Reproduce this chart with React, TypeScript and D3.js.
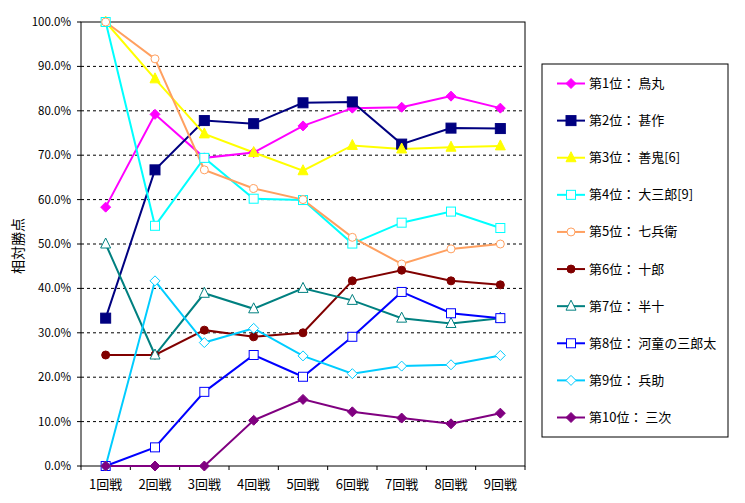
import * as d3 from "d3";

const rounds = ["1回戦", "2回戦", "3回戦", "4回戦", "5回戦", "6回戦", "7回戦", "8回戦", "9回戦"];
const yTicks = [0, 0.1, 0.2, 0.3, 0.4, 0.5, 0.6, 0.7, 0.8, 0.9, 1.0];

const names = [
  "第1位： 鳥丸",
  "第2位： 甚作",
  "第3位： 善鬼[6]",
  "第4位： 大三郎[9]",
  "第5位： 七兵衛",
  "第6位： 十郎",
  "第7位： 半十",
  "第8位： 河童の三郎太",
  "第9位： 兵助",
  "第10位： 三次",
];

const colors = ["#ff00ff", "#000080", "#ffff00", "#00ffff", "#ffa060", "#800000", "#008080", "#0000ff", "#00ccff", "#800080"];
const markers = ["diamond", "square", "triangle", "squareOpen", "circleOpen", "circle", "triangleOpen", "squareOpen", "diamondOpen", "diamond"];

const s1 = [58.3, 79.2, 69.4, 70.6, 76.6, 80.6, 80.8, 83.3, 80.6];
const s2 = [33.3, 66.7, 77.8, 77.1, 81.8, 82.0, 72.5, 76.1, 76.0];
const s3 = [100, 87.2, 74.8, 70.6, 66.5, 72.2, 71.4, 71.8, 72.1];
const s4 = [100, 54.1, 69.4, 60.2, 59.9, 50.1, 54.8, 57.3, 53.6];
const s5 = [100, 91.7, 66.7, 62.5, 60.0, 51.5, 45.5, 48.9, 50.0];
const s6 = [25.0, 25.0, 30.6, 29.1, 30.0, 41.7, 44.1, 41.7, 40.8];
const s7 = [50.0, 25.0, 38.9, 35.4, 40.0, 37.3, 33.3, 32.1, 33.3];
const s8 = [0, 4.2, 16.7, 25.0, 20.1, 29.1, 39.2, 34.4, 33.3];
const s9 = [0, 41.7, 27.8, 31.0, 24.8, 20.8, 22.5, 22.8, 24.9];
const s10 = [0, 0, 0, 10.3, 15.0, 12.2, 10.8, 9.5, 11.9];

const series = [s1, s2, s3, s4, s5, s6, s7, s8, s9, s10];

const W = 745;
const H = 503;
const left = 81;
const right = 525;
const top = 22;
const bottom = 466;
const font = "'Noto Sans CJK JP', 'Noto Sans', sans-serif";

function Marker({ type, color, x, y }: { type: string; color: string; x: number; y: number }) {
  const open = type.endsWith("Open");
  const fill = open ? "#fff" : color;
  const stroke = color;
  if (type.startsWith("diamond")) {
    const r = 5;
    return <path d={`M${x},${y - r}L${x + r},${y}L${x},${y + r}L${x - r},${y}Z`} fill={fill} stroke={stroke} strokeWidth={1} />;
  }
  if (type.startsWith("square")) {
    const r = open ? 4.5 : 5;
    return <rect x={x - r} y={y - r} width={r * 2} height={r * 2} fill={fill} stroke={stroke} strokeWidth={1} />;
  }
  if (type.startsWith("triangle")) {
    const r = 5;
    return <path d={`M${x},${y - r - 1}L${x + r},${y + r - 1}L${x - r},${y + r - 1}Z`} fill={fill} stroke={stroke} strokeWidth={1} />;
  }
  return <circle cx={x} cy={y} r={4} fill={fill} stroke={stroke} strokeWidth={1} />;
}

export default function App() {
  const x = d3.scaleBand<string>().domain(rounds).range([left, right]).padding(0);
  const cx = (c: string) => (x(c) ?? 0) + x.bandwidth() / 2;
  const y = d3.scaleLinear().domain([0, 1]).range([bottom, top]);
  const line = d3
    .line<number>()
    .x((_, i) => cx(rounds[i]))
    .y((v) => y(v / 100));

  const legendX = 542;
  const legendY = 64;
  const rowY = d3.scaleLinear().domain([0, 9]).range([83.5, 417.5]);

  return (
    <svg width={W} height={H} style={{ position: "absolute", left: 0, top: 0, background: "#fff" }} fontFamily={font}>
      <rect x={0} y={0} width={W} height={H} fill="#fff" />
      {/* grid */}
      {yTicks.slice(1, -1).map((t) => (
        <line key={t} x1={left} x2={right} y1={y(t)} y2={y(t)} stroke="#000" strokeDasharray="3,3" strokeWidth={1} />
      ))}
      <rect x={left} y={top} width={right - left} height={bottom - top} fill="none" stroke="#000" strokeWidth={1} />
      {/* y ticks */}
      {yTicks.map((t) => (
        <g key={t}>
          <line x1={left - 4} x2={left} y1={y(t)} y2={y(t)} stroke="#000" />
          <text x={71} y={y(t)} dy="0.35em" textAnchor="end" fontSize={11.5}>
            {(t * 100).toFixed(1)}%
          </text>
        </g>
      ))}
      {/* x ticks */}
      {rounds.map((r) => (
        <g key={r}>
          <line x1={x(r)} x2={x(r)} y1={bottom} y2={bottom + 4} stroke="#000" />
          <text x={cx(r)} y={484} dy="0.35em" textAnchor="middle" fontSize={13}>
            {r}
          </text>
        </g>
      ))}
      <line x1={right} x2={right} y1={bottom} y2={bottom + 4} stroke="#000" />
      <text transform={`translate(18,246) rotate(-90)`} textAnchor="middle" dy="0.35em" fontSize={14}>
        相対勝点
      </text>
      {/* series */}
      {series.map((s, i) => (
        <g key={i}>
          <path d={line(s) ?? ""} fill="none" stroke={colors[i]} strokeWidth={2} />
        </g>
      ))}
      {series.map((s, i) => (
        <g key={"m" + i}>
          {s.map((v, j) => (
            <Marker key={j} type={markers[i]} color={colors[i]} x={cx(rounds[j])} y={y(v / 100)} />
          ))}
        </g>
      ))}
      {/* legend */}
      <rect x={legendX} y={legendY} width={186} height={373} fill="#fff" stroke="#000" strokeWidth={1} />
      {names.map((n, i) => (
        <g key={n}>
          <line x1={557} x2={585} y1={rowY(i)} y2={rowY(i)} stroke={colors[i]} strokeWidth={2} />
          <Marker type={markers[i]} color={colors[i]} x={571} y={rowY(i)} />
          <text x={589} y={rowY(i)} dy="0.35em" fontSize={13}>
            {n}
          </text>
        </g>
      ))}
    </svg>
  );
}
